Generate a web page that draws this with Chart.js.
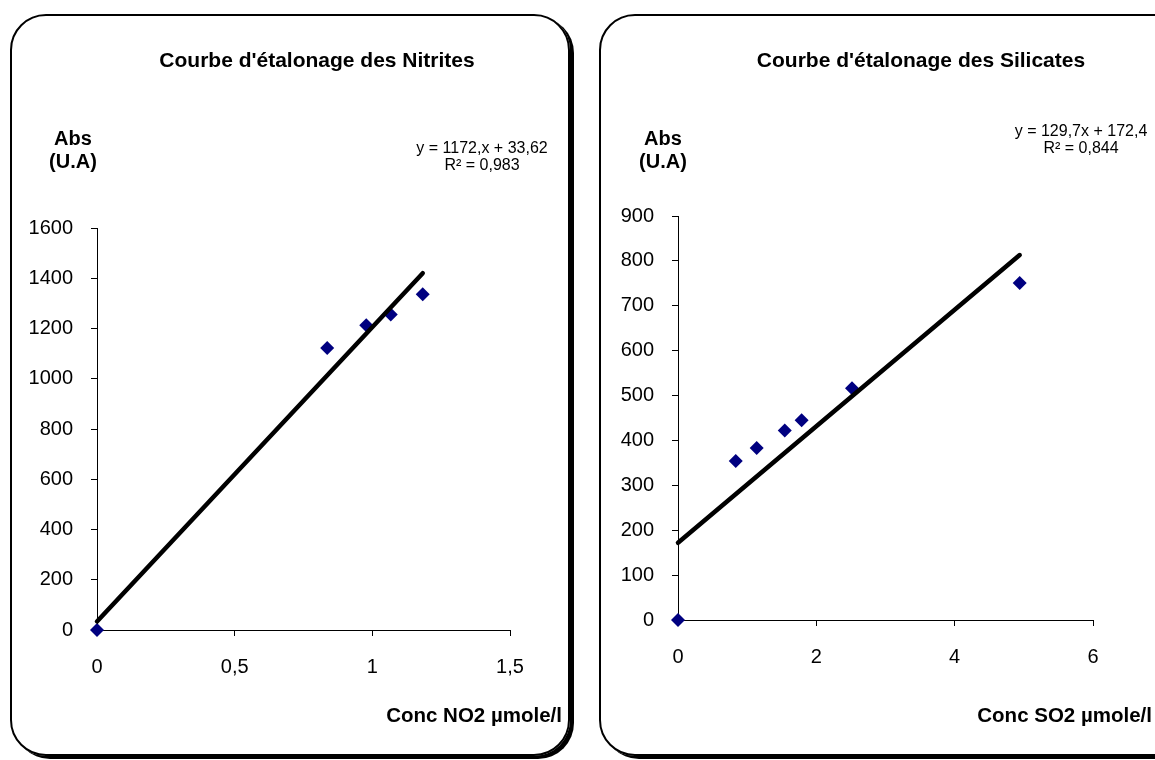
<!DOCTYPE html>
<html>
<head>
<meta charset="utf-8">
<script src="https://cdn.jsdelivr.net/npm/chart.js@4.4.0/dist/chart.umd.min.js"></script>
<style>
	body { margin: 0; width: 1155px; height: 760px; overflow: hidden; background: #fff; position: relative; font-family: "Liberation Sans", Arial, sans-serif; }
	.box { position: absolute; border: 2px solid #000; border-radius: 36px; box-shadow: 4px 3px 0 #000; box-sizing: border-box; }
	canvas { position: absolute; top: 0; }
	.lbl { position: absolute; color: #000; white-space: nowrap; transform: translate(-50%, -50%); text-align: center; }
	.bold { font-weight: bold; font-size: 20px; line-height: 23px; }
	.title { font-weight: bold; font-size: 21px; }
	.eq { font-size: 16px; line-height: 17px; }
	.xt { position: absolute; font-weight: bold; font-size: 20.5px; transform: translateY(-50%); white-space: nowrap; }
</style>
</head>
<body>
<div class="box" style="left:10px; top:14px; width:560px; height:742px;"></div>
<div class="box" style="left:599px; top:14px; width:600px; height:742px;"></div>

<canvas id="nitrites" width="585" height="760" style="left:0px"></canvas>
<canvas id="silicates" width="570" height="760" style="left:585px"></canvas>

<div class="lbl title" style="left:317px; top:60px;">Courbe d'étalonage des Nitrites</div>
<div class="lbl bold" style="left:73px; top:150px;">Abs<br>(U.A)</div>
<div class="lbl eq" style="left:482px; top:156px;">y = 1172,x + 33,62<br>R² = 0,983</div>
<div class="xt" style="right:593px; top:715px;">Conc NO2 µmole/l</div>

<div class="lbl title" style="left:921px; top:60px;">Courbe d'étalonage des Silicates</div>
<div class="lbl bold" style="left:663px; top:150px;">Abs<br>(U.A)</div>
<div class="lbl eq" style="left:1081px; top:139px;">y = 129,7x + 172,4<br>R² = 0,844</div>
<div class="xt" style="right:3px; top:715px;">Conc SO2 µmole/l</div>

<script>
// Nitrites
const nitriteConc = [0, 0.836, 0.978, 1.067, 1.183];
const nitriteAbs = [0, 1122, 1213, 1256, 1336];
const nitriteFitX = [0, 1.183];
const nitriteFitY = [34, 1420];

// Silicates
const silicateConc = [0, 0.835, 1.138, 1.543, 1.787, 2.516, 4.94];
const silicateAbs = [0, 354, 383, 422, 445, 516, 751];
const silicateFitX = [0, 4.94];
const silicateFitY = [172, 813];

const fontFam = '"Liberation Sans", Arial, sans-serif';

function pts(xs, ys) {
	return xs.map((x, i) => ({ x: x, y: ys[i] }));
}

function axis(min, max, step, size, isX) {
	return {
		type: 'linear',
		min: min,
		max: max,
		ticks: {
			stepSize: step,
			color: '#000',
			padding: isX ? 19 : 18,
			font: { family: fontFam, size: 20 },
			callback: v => String(v).replace('.', ',')
		},
		grid: {
			display: true,
			drawOnChartArea: false,
			drawTicks: true,
			tickLength: 6,
			color: '#000',
			lineWidth: 1
		},
		border: { display: true, color: '#000', width: 1 },
		afterFit: s => {
			if (isX) s.height = size; else s.width = size;
		}
	};
}

function calChart(id, conc, abs, fitX, fitY, xCfg, yCfg, pad) {
	let ctx = document.getElementById(id)
	new Chart(ctx, {
		type: 'scatter',
		data: {
			datasets: [{
				type: 'line',
				data: pts(fitX, fitY),
				borderColor: '#000',
				borderWidth: 4.5,
				borderCapStyle: 'round',
				pointRadius: 0,
				fill: false,
				clip: false
			}, {
				data: pts(conc, abs),
				backgroundColor: '#000080',
				borderColor: '#000080',
				pointStyle: 'rectRot',
				pointRadius: 7,
				borderWidth: 0,
				clip: false
			}]
		},
		options: {
			responsive: false,
			animation: false,
			layout: { padding: pad },
			plugins: {
				legend: { display: false },
				tooltip: { enabled: false },
				title: { display: false }
			},
			scales: {
				x: axis(xCfg[0], xCfg[1], xCfg[2], xCfg[3], true),
				y: axis(yCfg[0], yCfg[1], yCfg[2], yCfg[3], false)
			}
		}
	})
}

calChart('nitrites', nitriteConc, nitriteAbs, nitriteFitX, nitriteFitY,
	[0, 1.5, 0.5, 130], [0, 1600, 200, 97],
	{ top: 228, right: 75, left: 0, bottom: 0 });

calChart('silicates', silicateConc, silicateAbs, silicateFitX, silicateFitY,
	[0, 6, 2, 140], [0, 900, 100, 93],
	{ top: 216, right: 62, left: 0, bottom: 0 });
</script>
</body>
</html>
